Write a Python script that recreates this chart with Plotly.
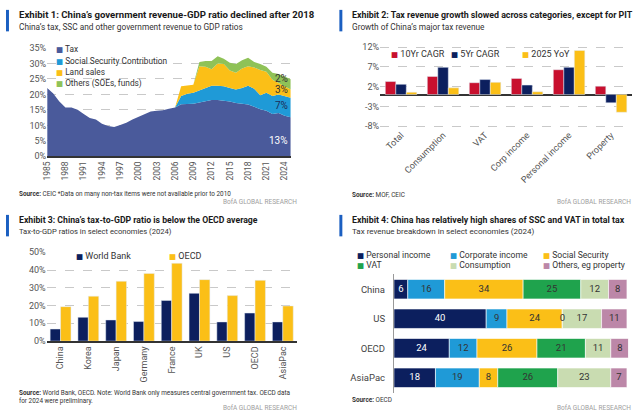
import plotly.graph_objects as go

W, H = 640, 420
def fx(p): return p / W
def fy(p): return 1 - p / H

FONT = "Roboto, Liberation Sans, sans-serif"

# ---------------- Panel 1 data ----------------
years = list(range(1985, 2026))
tax = [22.1, 20.3, 17.7, 15.8, 15.8, 15.0, 13.7, 12.4, 11.9, 10.5, 9.8, 9.5, 10.1, 10.8,
       11.9, 12.7, 13.7, 14.5, 14.7, 14.9, 15.4, 15.8,
       16.8, 16.9, 17.0, 17.4, 17.9, 18.2, 18.2, 18.0, 17.7, 17.2, 17.0, 16.7, 16.0, 15.2,
       14.7, 13.7, 14.0, 13.1, 12.6]
ssc = [0] * 22 + [2.7, 3.3, 3.5, 3.8, 4.2, 4.6, 4.6, 4.6, 4.4, 4.4, 5.1, 6.1, 5.8, 4.5,
                  5.8, 5.8, 6.0, 6.4, 6.3]
land = [0] * 22 + [3.1, 2.6, 2.6, 7.9, 6.8, 5.3, 7.2, 7.2, 5.6, 5.4, 6.3, 6.3, 6.9, 8.2,
                   6.8, 5.2, 3.7, 3.3, 2.7]
others = [0] * 25 + [1.4, 1.9, 2.7, 2.3, 1.7, 2.5, 2.8, 2.6, 2.7, 1.8, 1.9, 1.6, 2.3, 2.9,
                     3.0, 3.3]
p1_names = ["Tax", "Social Security Contribution", "Land sales", "Others (SOEs, funds)"]
p1_colors = ["#4a5a9b", "#1f9ad7", "#fbbf17", "#8fc257"]
p1_end_labels = ["13%", "7%", "3%", "2%"]
p1_ticks = list(range(1985, 2025, 3))
p1_yticks = [0, 5, 10, 15, 20, 25, 30, 35]
p1_ytext = ["0%", "5%", "10%", "15%", "20%", "25%", "30%", "35%"]

# ---------------- Panel 2 data ----------------
cats2 = ["Total", "Consumption", "VAT", "Corp income", "Personal income", "Property"]
cagr10 = [3.3, 4.6, 3.0, 4.1, 6.3, 2.1]
cagr5 = [2.6, 6.9, 3.8, 2.4, 6.9, -2.1]
yoy25 = [0.6, 1.7, 3.1, 0.7, 11.2, -4.5]
p2_names = ["10Yr CAGR", "5Yr CAGR", "2025 YoY"]
p2_colors = ["#c8102e", "#0c1f5e", "#fbbf17"]
p2_yticks = [-8, -3, 2, 7, 12]
p2_ytext = ["-8%", "-3%", "2%", "7%", "12%"]

# ---------------- Panel 3 data ----------------
econs = ["China", "Korea", "Japan", "Germany", "France", "UK", "US", "OECD", "AsiaPac"]
wb = [6.8, 13.4, 11.9, 11.0, 22.9, 26.9, 10.8, 15.8, 10.8]
oecd = [19.4, 25.3, 33.7, 38.1, 43.8, 34.6, 25.6, 34.2, 19.8]
p3_names = ["World Bank", "OECD"]
p3_colors = ["#0c1f5e", "#fbbf17"]
p3_yticks = [0, 10, 20, 30, 40, 50]
p3_ytext = ["0%", "10%", "20%", "30%", "40%", "50%"]

# ---------------- Panel 4 data ----------------
regions = ["China", "US", "OECD", "AsiaPac"]
personal = [6, 40, 24, 18]
corporate = [16, 9, 12, 19]
social = [34, 24, 26, 8]
vat = [25, 0, 21, 26]
consumption = [12, 17, 11, 23]
other_tax = [8, 11, 8, 7]
p4_names = ["Personal income", "Corporate income", "Social Security", "VAT",
            "Consumption", "Others, eg property"]
p4_colors = ["#0c1f5e", "#1f9ad7", "#fbbf17", "#1fa34d", "#c9dcb1", "#bc87a8"]
p4_textcol = ["white", "#333333", "#333333", "#333333", "#333333", "#333333"]

fig = go.Figure()

# Panel 1: stacked areas
for name, vals, col in zip(p1_names, [tax, ssc, land, others], p1_colors):
    fig.add_trace(go.Scatter(x=years, y=vals, name=name, stackgroup="p1", mode="lines",
                             line=dict(width=0, color=col), fillcolor=col,
                             showlegend=False, xaxis="x", yaxis="y"))

# Panel 2: grouped bars
for name, vals, col in zip(p2_names, [cagr10, cagr5, yoy25], p2_colors):
    fig.add_trace(go.Bar(x=cats2, y=vals, name=name, marker_color=col,
                         showlegend=False, xaxis="x2", yaxis="y2"))

# Panel 3: grouped bars
for name, vals, col in zip(p3_names, [wb, oecd], p3_colors):
    fig.add_trace(go.Bar(x=econs, y=vals, name=name, marker_color=col,
                         showlegend=False, xaxis="x3", yaxis="y3"))

# Panel 4: stacked horizontal bars (bases built from the data)
series4 = [personal, corporate, social, vat, consumption, other_tax]
base = [0] * len(regions)
tx, ty, tt, tc = [], [], [], []
for name, vals, col, tcol in zip(p4_names, series4, p4_colors, p4_textcol):
    fig.add_trace(go.Bar(y=regions, x=vals, base=list(base), orientation="h", name=name,
                         marker=dict(color=col, line=dict(color="white", width=0.6)),
                         offsetgroup="p4", width=0.66, showlegend=False,
                         xaxis="x4", yaxis="y4"))
    for i, v in enumerate(vals):
        tx.append(base[i] + v / 2)
        ty.append(regions[i])
        tt.append(str(v))
        tc.append(tcol)
        base[i] += v
fig.add_trace(go.Scatter(x=tx, y=ty, text=tt, mode="text",
                         textfont=dict(family=FONT, size=9.5, color=tc),
                         showlegend=False, hoverinfo="skip", cliponaxis=False,
                         xaxis="x4", yaxis="y4"))

grid = dict(showgrid=True, gridcolor="#c9c9c9", gridwidth=1, griddash="dash")
tickf = dict(family=FONT, size=9, color="#555555")

fig.update_layout(
    width=W, height=H, margin=dict(l=0, r=0, t=0, b=0),
    paper_bgcolor="white", plot_bgcolor="white",
    barmode="group", bargap=0.25, bargroupgap=0,
    font=dict(family=FONT, color="#333333"),
    xaxis=dict(domain=[fx(42.5), fx(288)], range=[1985, 2025], tickvals=p1_ticks,
               tickangle=-90, tickfont=dict(family=FONT, size=8.5, color="#555555"),
               showline=True, linecolor="#333333", linewidth=1.5, showgrid=False,
               ticks="", anchor="y"),
    yaxis=dict(domain=[fy(155), fy(44)], range=[0, 35], tickvals=p1_yticks,
               ticktext=p1_ytext, tickfont=tickf, ticks="", zeroline=False,
               anchor="x", **grid),
    xaxis2=dict(domain=[fx(378), fx(632)], tickangle=-45,
                tickfont=dict(family=FONT, size=9, color="#555555"),
                showgrid=False, ticks="", anchor="y2"),
    yaxis2=dict(domain=[fy(125.2), fy(42.1)], range=[-8.3, 12.3], tickvals=p2_yticks,
                ticktext=p2_ytext, tickfont=tickf, ticks="", zeroline=True,
                zerolinecolor="#333333", zerolinewidth=1.5, anchor="x2", **grid),
    xaxis3=dict(domain=[fx(42), fx(294)], tickangle=-90,
                tickfont=dict(family=FONT, size=9, color="#555555"),
                showline=True, linecolor="#333333", linewidth=1.5, showgrid=False,
                ticks="", anchor="y3"),
    yaxis3=dict(domain=[fy(344.3), fy(253.3)], range=[0, 50], tickvals=p3_yticks,
                ticktext=p3_ytext, tickfont=tickf, ticks="", zeroline=False,
                anchor="x3", **grid),
    xaxis4=dict(domain=[fx(392), fx(628)], range=[0, 101.5], visible=False, anchor="y4"),
    yaxis4=dict(domain=[fy(397), fy(276)], autorange="reversed", showline=True,
                linecolor="#999999", linewidth=1, ticks="", ticklabelstandoff=6,
                tickfont=dict(family=FONT, size=9.5, color="#444444"),
                showgrid=False, anchor="x4"),
)

ann = []
def txt(x, y, text, size, color="#222222", xanchor="left", yanchor="middle"):
    ann.append(dict(x=fx(x), y=fy(y), xref="paper", yref="paper", text=text,
                    showarrow=False, xanchor=xanchor, yanchor=yanchor, align="left",
                    font=dict(family=FONT, size=size, color=color)))

def legend_item(x, y, color, name, size=8.6):
    sq = ("<span style='color:%s;font-family:DejaVu Sans;font-size:7.5px'>\u25a0</span> %s"
          % (color, name))
    txt(x, y, sq, size, color="#333333")

shapes = []
def accent(x, y0, y1):
    shapes.append(dict(type="rect", xref="paper", yref="paper", x0=fx(x), x1=fx(x + 3),
                       y0=fy(y1), y1=fy(y0), fillcolor="#1b5fc1", line=dict(width=0)))

# Headers
panels = [
    (0, 0, "Exhibit 1: China\u2019s government revenue-GDP ratio declined after 2018",
     "China\u2019s tax, SSC and other government revenue to GDP ratios", 9.6, 8.3),
    (336, 0, "Exhibit 2: Tax revenue growth slowed across categories, except for PIT",
     "Growth of China\u2019s major tax revenue", 8.85, 8.3),
    (0, 210, "Exhibit 3: China\u2019s tax-to-GDP ratio is below the OECD average",
     "Tax-to-GDP ratios in select economies (2024)", 8.7, 7.6),
    (336, 210, "Exhibit 4: China has relatively high shares of SSC and VAT in total tax",
     "Tax revenue breakdown in select economies (2024)", 8.8, 8.0),
]
for (px, py, title, sub, ts, ss) in panels:
    accent(px + 1, py + 5, py + 27)
    txt(px + 12, py + 10, "<b>" + title + "</b>", ts, color="#1a1a1a")
    txt(px + 12, py + 22.5, sub, ss, color="#333333")

# Sources
txt(12, 193.5, "<b>Source:</b> CEIC *Data on many non-tax items were not available prior to 2010", 6.4, "#333333")
txt(348, 194.5, "<b>Source:</b> MOF, CEIC", 6.4, "#333333")
txt(12, 401.5, "<b>Source:</b> World Bank, OECD. Note: World Bank only measures central government tax. OECD data<br>for 2024 were preliminary.", 6.4, "#333333")
txt(348, 405, "<b>Source:</b> OECD", 6.4, "#333333")
for (x, y) in [(296, 202), (632.5, 202), (296, 412.5), (632.5, 412.5)]:
    txt(x, y, "BofA GLOBAL RESEARCH", 6.5, "#a0a0a0", xanchor="right")

# Panel 1 legend and end labels
for i, (n, c) in enumerate(zip(p1_names, p1_colors)):
    legend_item(49.5, [45, 57, 68.7, 80][i], c, n, 8.3)
p1_label_y = [138.3, 103.3, 86.7, 75]
p1_label_c = ["white", "#1d2b55", "#333333", "#333333"]
for lab, yy, cc in zip(p1_end_labels, p1_label_y, p1_label_c):
    txt(287, yy, lab, 10, cc, xanchor="right")

# Panel 2 legend
for x, c, n in zip([387.5, 447.5, 519], p2_colors, p2_names):
    legend_item(x, 50, c, n, 9)
# Panel 3 legend
for x, c, n in zip([69.5, 163.5], p3_colors, p3_names):
    legend_item(x, 257, c, n, 9)
# Panel 4 legend
for i, (n, c) in enumerate(zip(p4_names, p4_colors)):
    legend_item([352.5, 446.5, 540.5][i % 3], [255.7, 266.7][i // 3], c, n, 8.6)

fig.update_layout(annotations=ann, shapes=shapes)
fig.write_html("out.html", config={"displayModeBar": False},
               post_script="document.body.style.margin='0';document.body.style.overflow='hidden';")
